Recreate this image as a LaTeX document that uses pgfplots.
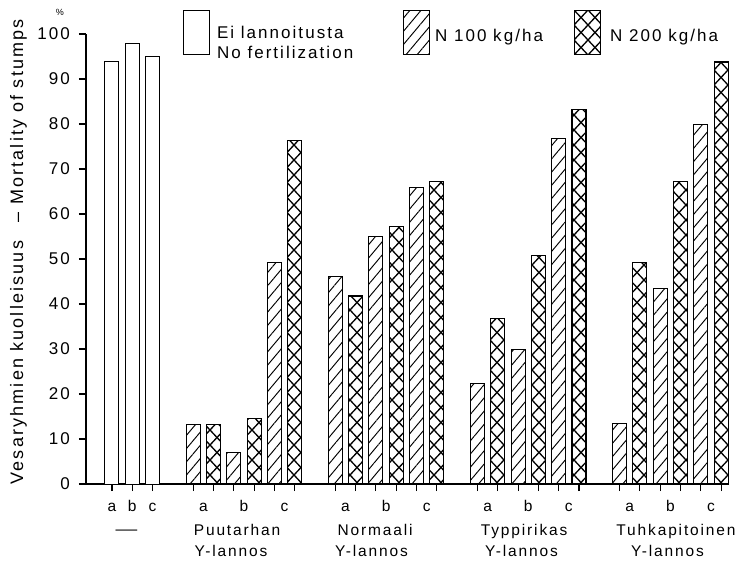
\documentclass[border=0pt]{standalone}
\usepackage{fontspec}
\setmainfont{Liberation Sans}[LetterSpace=12]
\usepackage{pgfplots}
\pgfplotsset{compat=1.18}
\usetikzlibrary{patterns.meta}

\tikzdeclarepattern{
  name=xcross,
  type=uncolored,
  bottom left={(-0.7pt,-0.7pt)},
  top right={(14.7pt,15.7pt)},
  tile size={(14pt,15pt)},
  code={
    \draw[line width=1.3pt] (0pt,0pt) -- (14pt,15pt) (0pt,15pt) -- (14pt,0pt);
  }
}

\newcommand{\tickfont}{\fontsize{17}{17}\selectfont}
\newcommand{\catfont}{\fontsize{15.5}{18}\selectfont}
\newcommand{\labfont}{\fontsize{18}{20}\selectfont}
\newcommand{\legfont}{\fontsize{17}{20}\selectfont}

\pgfplotsset{
  swatch/.style={legend image code/.code={\draw[##1] (0pt,-19pt) rectangle (26pt,25pt);}},
}

\begin{document}
\begin{tikzpicture}
\path (0pt,0pt) rectangle (740pt,-565pt);
\begin{axis}[
  at={(86pt,-484pt)}, anchor=south west,
  scale only axis, width=642pt, height=450pt,
  xmin=-1.28, xmax=30.34, ymin=0, ymax=100,
  clip=false,
  axis x line=bottom, axis y line=left,
  axis line style={-, line width=1.2pt},
  ytick={0,10,...,100},
  xtick={0,1,2,4,5,6,7,8,9,11,12,13,14,15,16,18,19,20,21,22,23,25,26,27,28,29,30},
  xticklabels={},
  tick align=outside,
  major tick length=7pt,
  tick style={line width=1.1pt, black},
  /pgf/number format/assume math mode=true,
  yticklabel style={font=\tickfont, anchor=east, inner sep=0pt, xshift=-9pt},
  extra x ticks={0,1,2,4.5,6.5,8.5,11.5,13.5,15.5,18.5,20.5,22.5,25.5,27.5,29.5},
  extra x tick labels={a,b,c,a,b,c,a,b,c,a,b,c,a,b,c},
  extra x tick style={major tick length=0pt, xticklabel style={anchor=base, yshift=-27pt, font=\catfont}},
  ylabel={Vesaryhmien kuolleisuus\hspace{18pt}–\hspace{8pt}Mortality of stumps},
  ylabel style={at={(axis description cs:-0.0981,0.516)}, anchor=base, font=\labfont},
  legend columns=3,
  legend cell align=left,
  legend style={at={(axis description cs:0.1511,1.0533)}, anchor=north west,
    draw=none, fill=none, inner sep=0pt, outer sep=0pt,
    column sep=0pt, row sep=0pt, nodes={inner sep=0pt}, font=\legfont},
]
\addplot[ybar, bar width=14pt, bar shift=0pt, draw=black, fill=white, line width=1pt, swatch]
  coordinates {(0,94) (1,97.9) (2,95)};
\addlegendentry{\hspace{7pt}\makebox[186pt][l]{\raisebox{-4pt}{$\vcenter{\hbox{Ei lannoitusta}\hbox{No fertilization}}$}}}
\addplot[ybar, bar width=14pt, bar shift=0pt, draw=black, line width=1pt,
  pattern={Lines[angle=50,distance=8.5pt,line width=0.95pt]}, swatch]
  coordinates {(4,13.3) (6,7.1) (8,49.2)
               (11,46.1) (13,55.1) (15,65.8)
               (18,22.4) (20,29.8) (22,76.7)
               (25,13.5) (27,43.5) (29,79.8)};
\addlegendentry{\hspace{5pt}\makebox[139pt][l]{N 100 kg/ha}}
\addplot[ybar, bar width=14pt, bar shift=0pt, draw=black, line width=1.2pt,
  pattern=xcross, swatch]
  coordinates {(5,13.3) (7,14.5) (9,76.3)
               (12,41.8) (14,57.3) (16,67.3)
               (19,36.8) (21,50.7) (23,83.3)
               (26,49.2) (28,67.3) (30,93.8)};
\addlegendentry{\hspace{9pt}N 200 kg/ha}

\node[anchor=base, font=\catfont, xscale=1.4] at (axis cs:0.71,0) [yshift=-50pt] {—};
\node[anchor=base, font=\catfont] at (axis cs:6.16,0) [yshift=-51pt] {Puutarhan};
\node[anchor=base, font=\catfont] at (axis cs:5.86,0) [yshift=-72pt] {Y-lannos};
\node[anchor=base, font=\catfont] at (axis cs:12.96,0) [yshift=-51pt] {Normaali};
\node[anchor=base, font=\catfont] at (axis cs:12.78,0) [yshift=-72pt] {Y-lannos};
\node[anchor=base, font=\catfont] at (axis cs:20.30,0) [yshift=-51pt] {Typpirikas};
\node[anchor=base, font=\catfont] at (axis cs:20.17,0) [yshift=-72pt] {Y-lannos};
\node[anchor=base, font=\catfont] at (axis cs:27.78,0) [yshift=-51pt] {Tuhkapitoinen};
\node[anchor=base, font=\catfont] at (axis cs:27.36,0) [yshift=-72pt] {Y-lannos};
\node[font=\fontsize{9}{9}\selectfont] at (axis description cs:-0.0405,1.049) {\%};
\end{axis}
\end{tikzpicture}
\end{document}
